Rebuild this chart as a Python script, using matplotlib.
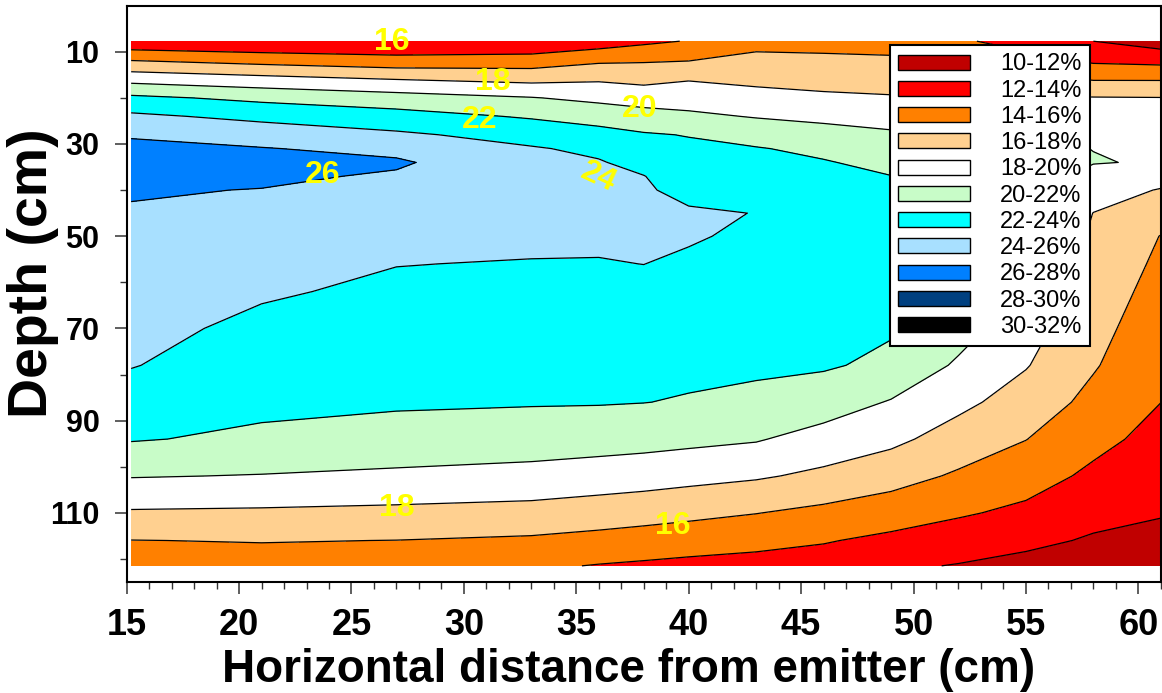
import numpy as np
import matplotlib
matplotlib.use("Agg")
import matplotlib.pyplot as plt
from matplotlib.patches import Patch
from matplotlib.ticker import MultipleLocator, FixedLocator

plt.rcParams['font.family'] = ['Liberation Sans', 'DejaVu Sans']

# horizontal distance from emitter (cm) and depth (cm) of the grid nodes
distance = [15.2, 21, 27, 33, 36, 38, 40, 43, 46, 49, 52, 55, 58, 61]
depth = [7.7, 12, 16, 20, 24, 28, 31, 34, 37, 40, 45, 50, 56, 62, 70, 78,
         86, 94, 102, 110, 116, 121.5]

# soil water content (%) - one row per depth, one column per distance
moisture = [
    [12.4, 12.1, 12.1, 12.2, 12.9, 13.6, 14.1, 15.4, 15.4, 15.3, 14.3, 13.2, 12.0, 11.0],
    [16.09, 15.39, 14.8, 14.97, 15.74, 15.86, 16.0, 16.52, 16.38, 16.28, 16.2, 14.75, 13.72, 13.48],
    [19.37, 18.69, 18.0, 17.5, 17.78, 17.48, 17.9, 17.55, 17.33, 17.21, 17.2, 16.67, 15.89, 15.88],
    [22.42, 21.53, 20.82, 20.09, 19.53, 19.15, 19.12, 18.68, 18.35, 18.16, 18.05, 18.25, 18.1, 18.05],
    [24.37, 23.5, 22.77, 21.79, 21.21, 20.77, 20.38, 19.88, 19.55, 19.26, 19.0, 19.25, 18.76, 18.57],
    [25.85, 25.12, 24.31, 23.32, 22.68, 22.18, 21.92, 21.24, 20.72, 20.27, 20.05, 20.08, 19.42, 19.1],
    [26.39, 26.09, 25.49, 24.15, 23.65, 22.84, 22.37, 22.11, 21.59, 20.9, 20.5, 20.31, 19.98, 19.49],
    [26.85, 26.47, 26.25, 24.54, 24.12, 23.49, 22.76, 22.51, 22.12, 21.52, 20.9, 20.54, 20.07, 19.88],
    [26.73, 26.33, 25.78, 24.92, 24.3, 24.04, 23.16, 22.91, 22.34, 22.03, 21.2, 20.77, 19.49, 18.84],
    [26.15, 25.95, 25.5, 25.3, 24.48, 24.19, 23.55, 23.31, 22.56, 22.14, 21.45, 21.0, 18.89, 17.88],
    [25.85, 25.55, 25.05, 24.85, 24.46, 24.37, 24.2, 23.97, 22.93, 22.33, 21.7, 20.67, 17.97, 16.85],
    [25.58, 25.16, 24.59, 24.4, 24.23, 24.2, 24.15, 23.72, 23.3, 22.51, 21.85, 20.33, 17.7, 15.95],
    [25.26, 24.68, 24.04, 23.91, 23.93, 24.01, 23.76, 23.42, 23.04, 22.67, 21.8, 19.92, 17.37, 15.63],
    [24.94, 24.2, 23.67, 23.55, 23.57, 23.62, 23.4, 23.11, 22.79, 22.46, 21.5, 19.43, 17.05, 15.3],
    [24.51, 23.6, 23.19, 23.08, 23.08, 23.09, 22.92, 22.7, 22.44, 22.18, 20.8, 18.78, 16.61, 14.87],
    [24.08, 23.03, 22.71, 22.61, 22.6, 22.56, 22.43, 22.29, 22.2, 21.6, 19.71, 18.12, 16.17, 14.44],
    [23.16, 22.45, 22.24, 22.14, 22.11, 22.03, 21.86, 21.59, 21.0, 19.86, 18.48, 17.12, 15.46, 14.01],
    [22.14, 21.64, 21.25, 20.98, 20.83, 20.68, 20.48, 20.16, 19.23, 18.46, 17.15, 16.04, 14.56, 13.37],
    [20.11, 19.92, 19.65, 19.38, 19.08, 18.89, 18.61, 18.23, 17.59, 16.77, 15.74, 14.85, 13.61, 12.73],
    [17.79, 17.7, 17.54, 17.32, 17.0, 16.75, 16.48, 16.05, 15.52, 14.94, 14.23, 13.57, 12.58, 12.09],
    [15.97, 16.08, 15.98, 15.72, 15.4, 15.16, 14.91, 14.57, 14.14, 13.56, 12.99, 12.46, 11.79, 11.62],
    [15.3, 15.2, 15.0, 14.3, 13.9, 13.7, 13.5, 13.3, 13.1, 12.3, 11.9, 11.4, 11.0, 11.2],
]

levels = [10, 12, 14, 16, 18, 20, 22, 24, 26, 28, 30, 32]
band_colors = ['#C00000', '#FF0000', '#FF8000', '#FFD090', '#FFFFFF', '#C8FCC8',
               '#00FFFF', '#A8E0FF', '#0080FF', '#004080', '#000000']
band_labels = ['10-12%', '12-14%', '14-16%', '16-18%', '18-20%', '20-22%',
               '22-24%', '24-26%', '26-28%', '28-30%', '30-32%']

# inline contour values as they appear on the chart
label_text = ['16', '18', '22', '20', '26', '24', '18', '16']
label_x = [26.8, 31.3, 30.7, 37.8, 23.7, 36.0, 27.0, 39.3]
label_d = [7.8, 16.5, 24.7, 22.5, 36.8, 37.2, 108.9, 112.8]
label_rot = [0, 0, 0, 0, 0, -25, 0, 0]

fig = plt.figure(figsize=(11.62, 6.93), dpi=100)
ax = fig.add_axes([0.109, 0.1602, 0.890, 0.8316])

X, Y = np.meshgrid(distance, depth)
Z = np.array(moisture)
ax.contourf(X, Y, Z, levels=levels, colors=band_colors)
ax.contour(X, Y, Z, levels=levels, colors='black', linewidths=0.9)

for t, x, d, r in zip(label_text, label_x, label_d, label_rot):
    ax.text(x, d, t, color='#FFFF00', fontsize=23, fontweight='bold',
            ha='center', va='center', rotation=r)

ax.set_xlim(15, 61)
ax.set_ylim(125, 0)

ax.xaxis.set_major_locator(MultipleLocator(5))
ax.xaxis.set_minor_locator(MultipleLocator(1))
ax.yaxis.set_major_locator(FixedLocator([10, 30, 50, 70, 90, 110]))
ax.yaxis.set_minor_locator(FixedLocator([20, 40, 60, 80, 100, 120]))
ax.tick_params(which='major', direction='out', length=8.6, width=1.1, color='#333333')
ax.tick_params(which='minor', direction='out', length=5, width=1.0, color='#333333')
ax.tick_params(axis='x', which='major', pad=10)
ax.tick_params(axis='y', which='major', pad=11)

for lab in ax.get_xticklabels():
    lab.set_family(['Liberation Sans Narrow', 'Liberation Sans'])
    lab.set_fontweight('bold')
    lab.set_fontsize(26)
for lab in ax.get_yticklabels():
    lab.set_fontweight('bold')
    lab.set_fontsize(22)

ax.set_xlabel('Horizontal distance from emitter (cm)', fontsize=33, fontweight='bold',
              family=['Liberation Sans Narrow', 'Liberation Sans'], va='center')
ax.xaxis.set_label_coords(0.485, -0.153)
ax.set_ylabel('Depth (cm)', fontsize=40, fontweight='bold', va='center')
ax.yaxis.set_label_coords(-0.091, 0.536)

for s in ax.spines.values():
    s.set_linewidth(1.5)
    s.set_color('black')
    s.set_zorder(5)

handles = [Patch(facecolor=c, edgecolor='black', linewidth=1.0) for c in band_colors]
leg = ax.legend(handles, band_labels, loc='upper left', bbox_to_anchor=(0.7659, 0.9351),
                bbox_transform=fig.transFigure, borderaxespad=0, fontsize=17,
                handlelength=3.05, handleheight=0.6, handletextpad=1.25,
                labelspacing=0.18, borderpad=0.36, fancybox=False, framealpha=1,
                edgecolor='black')
leg.get_frame().set_linewidth(1.5)

fig.savefig('out.png', dpi=100)
